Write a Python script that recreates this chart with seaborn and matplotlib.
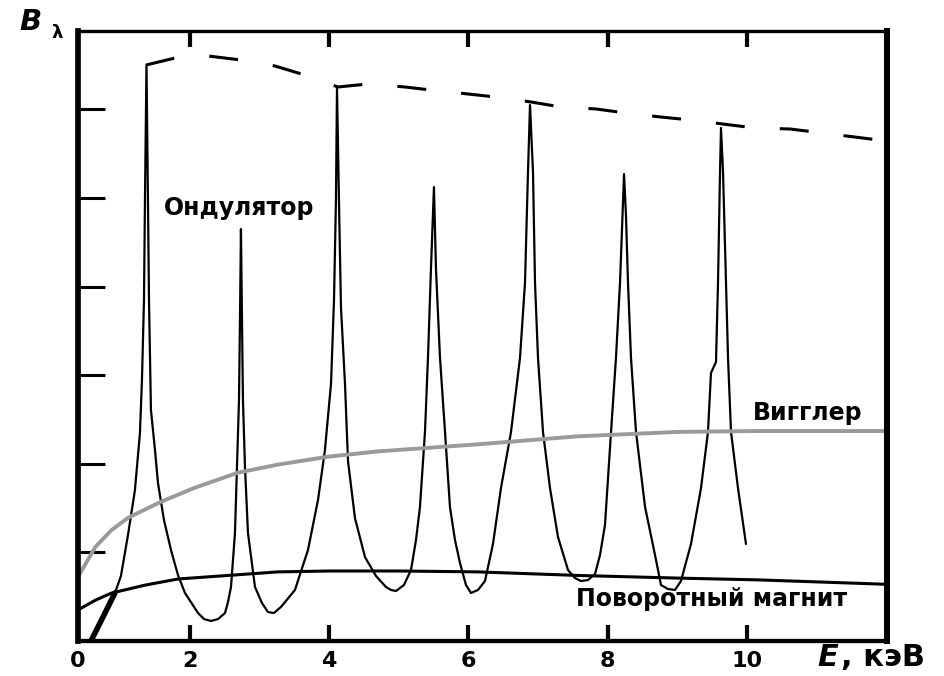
import matplotlib
matplotlib.use("Agg")
import matplotlib.pyplot as plt
import seaborn as sns

# ---------------- data ----------------
# Undulator spectrum (E in keV, B_lambda in tick units)
und_x = [0.578, 0.751, 0.923, 1.009, 1.110, 1.210, 1.282, 1.311, 1.340, 1.354, 1.376,
         1.397, 1.412, 1.440, 1.498, 1.541, 1.627, 1.728, 1.828, 1.929, 2.116, 2.202, 2.302,
         2.405, 2.504, 2.547, 2.590, 2.647, 2.676, 2.705, 2.719, 2.733, 2.748, 2.762, 2.791, 2.834,
         2.935, 3.035, 3.121, 3.207, 3.308, 3.509, 3.696, 3.840, 3.940, 3.983, 4.027, 4.070,
         4.098, 4.113, 4.141, 4.170, 4.228, 4.271, 4.371, 4.515, 4.673, 4.817, 4.889, 4.960,
         5.075, 5.176, 5.248, 5.305, 5.377, 5.420, 5.463, 5.506, 5.535, 5.593, 5.665,
         5.736, 5.808, 5.880, 5.966, 6.038, 6.139, 6.239, 6.354, 6.469, 6.613, 6.742,
         6.814, 6.857, 6.886, 6.929, 6.958, 7.001, 7.073, 7.173, 7.288, 7.432, 7.532, 7.618,
         7.719, 7.820, 7.892, 7.963, 8.050, 8.121, 8.179, 8.237, 8.265, 8.294, 8.337, 8.409,
         8.539, 8.682, 8.768, 8.868, 8.969, 9.055, 9.199, 9.343, 9.443, 9.486, 9.558, 9.587,
         9.616, 9.630, 9.659, 9.702, 9.731, 9.774, 9.874, 9.989]
und_y = [0.000, 0.271, 0.542, 0.734, 1.196, 1.704, 2.348, 2.946, 3.849, 4.977, 6.501,
         4.977, 3.849, 2.607, 2.156, 1.783, 1.366, 1.027, 0.745, 0.542, 0.316, 0.248, 0.226,
         0.248, 0.316, 0.440, 0.609, 1.219, 1.964, 2.720, 3.623, 4.650, 3.623, 2.720, 1.964, 1.219,
         0.609, 0.429, 0.327, 0.316, 0.384, 0.576, 1.027, 1.591, 2.156, 2.528, 2.901, 3.849,
         4.977, 6.242, 4.977, 3.770, 2.901, 2.032, 1.388, 0.948, 0.734, 0.609, 0.576, 0.564,
         0.632, 0.801, 1.140, 1.512, 2.359, 3.194, 4.199, 5.124, 4.199, 3.194, 2.359,
         1.512, 1.140, 0.880, 0.632, 0.542, 0.576, 0.677, 1.095, 1.727, 2.359, 3.194,
         4.041, 5.293, 6.050, 5.293, 4.041, 3.194, 2.359, 1.727, 1.174, 0.801, 0.711, 0.677,
         0.688, 0.756, 0.971, 1.309, 2.359, 3.194, 4.041, 5.271, 4.797, 4.041, 3.194, 2.359,
         1.512, 0.971, 0.632, 0.587, 0.576, 0.677, 1.095, 1.727, 2.359, 3.025, 3.149, 4.041,
         5.293, 5.790, 5.293, 4.041, 3.194, 2.359, 1.727, 1.095]

# Envelope of the undulator peaks (dashed)
env_x = [1.369, 1.785, 2.259, 2.733, 3.222, 3.653, 4.127, 4.558, 5.090, 5.463, 5.995,
         6.397, 6.900, 7.331, 7.834, 8.265, 8.768, 9.199, 9.659, 10.119, 10.622,
         11.082, 11.556, 12.016]
env_y = [6.501, 6.580, 6.603, 6.558, 6.490, 6.388, 6.253, 6.287, 6.253, 6.219, 6.174,
         6.140, 6.084, 6.027, 6.005, 5.959, 5.914, 5.880, 5.835, 5.790, 5.779,
         5.734, 5.688, 5.643]

# Wiggler spectrum (grey)
wig_x = [0.39, 0.64, 0.87, 1.11, 1.58, 2.07, 2.69, 3.26, 3.98, 4.70, 6.14, 7.57, 9.01, 10.16, 12.01]
wig_y = [0.72, 1.06, 1.25, 1.39, 1.57, 1.73, 1.90, 1.99, 2.08, 2.14, 2.22, 2.31, 2.36, 2.37, 2.37]

# Bending magnet spectrum
bm_x = [0.39, 0.64, 0.87, 1.35, 1.83, 2.55, 3.26, 3.98, 5.02, 6.14, 7.57, 9.01, 10.16, 12.01]
bm_y = [0.35, 0.46, 0.54, 0.63, 0.70, 0.74, 0.78, 0.79, 0.79, 0.78, 0.74, 0.71, 0.69, 0.64]

xtick_vals = [2, 4, 6, 8, 10]
xtick_labels = ["2", "4", "6", "8", "10"]
x_origin_label = "0"
ytick_vals = [1, 2, 3, 4, 5, 6]
x_min, x_max = 0.392, 12.015
y_min, y_max = 0.0, 6.885

label_und = "Ондулятор"
label_wig = "Вигглер"
label_bm = "Поворотный магнит"

# ---------------- figure ----------------
sns.set_theme(style="white")
plt.rcParams['font.family'] = ['DejaVu Sans']
plt.rcParams['font.weight'] = 'bold'
plt.rcParams['text.color'] = 'black'

fig = plt.figure(figsize=(9.45, 6.76), dpi=100)
ax = fig.add_axes([78 / 945, 35 / 676, (887 - 78) / 945, (641 - 31) / 676])

sns.lineplot(x=und_x, y=und_y, ax=ax, color="black", lw=1.6, sort=False, estimator=None)
sns.lineplot(x=und_x[:3], y=und_y[:3], ax=ax, color="black", lw=4.0, sort=False, estimator=None)
sns.lineplot(x=bm_x, y=bm_y, ax=ax, color="black", lw=2.2, sort=False, estimator=None)
sns.lineplot(x=wig_x, y=wig_y, ax=ax, color="#9a9a9a", lw=2.8, sort=False, estimator=None)
sns.lineplot(x=env_x, y=env_y, ax=ax, color="black", lw=2.2, sort=False, estimator=None,
             linestyle=(0, (9.5, 11.5)))

ax.set_xlim(x_min, x_max)
ax.set_ylim(y_min, y_max)

ax.set_xticks(xtick_vals)
ax.set_xticklabels(xtick_labels)
ax.set_xticks([x_min], minor=True)
ax.set_xticklabels([x_origin_label], minor=True)
ax.tick_params(axis='x', which='major', direction='in', length=11.5, width=3.0,
               top=True, bottom=True, labelsize=16, pad=7, colors='black')
ax.tick_params(axis='x', which='minor', length=0, labelsize=16, pad=7, bottom=True,
               colors='black')
ax.set_yticks(ytick_vals)
ax.set_yticklabels([])
ax.tick_params(axis='y', which='major', direction='in', length=19.5, width=2.2,
               left=True, right=False, colors='black')
for lbl in ax.get_xticklabels(which='both'):
    lbl.set_fontweight('bold')

ax.spines['left'].set_linewidth(4.1)
ax.spines['right'].set_linewidth(4.3)
ax.spines['top'].set_linewidth(2.4)
ax.spines['bottom'].set_linewidth(3.1)
for s in ax.spines.values():
    s.set_color('black')
ax.set_xlabel("")
ax.set_ylabel("")

ax.text(2.705, 4.887, label_und, ha='center', va='center', fontsize=17, fontweight='bold')
ax.text(10.87, 2.573, label_wig, ha='center', va='center', fontsize=17, fontweight='bold')
ax.text(9.50, 0.47, label_bm, ha='center', va='center', fontsize=17, fontweight='bold')

fig.text(31 / 945, 1 - 22 / 676, "B", ha='center', va='center', fontsize=21,
         fontweight='bold', fontstyle='italic')
fig.text(57 / 945, 1 - 33 / 676, "λ", ha='center', va='center', fontsize=13, fontweight='bold')
fig.text(828 / 945, 1 - 657 / 676, "E", ha='center', va='center', fontsize=22,
         fontweight='bold', fontstyle='italic')
fig.text(841 / 945, 1 - 657 / 676, ", кэВ", ha='left', va='center', fontsize=22,
         fontweight='bold')

fig.savefig("out.png", dpi=100)
